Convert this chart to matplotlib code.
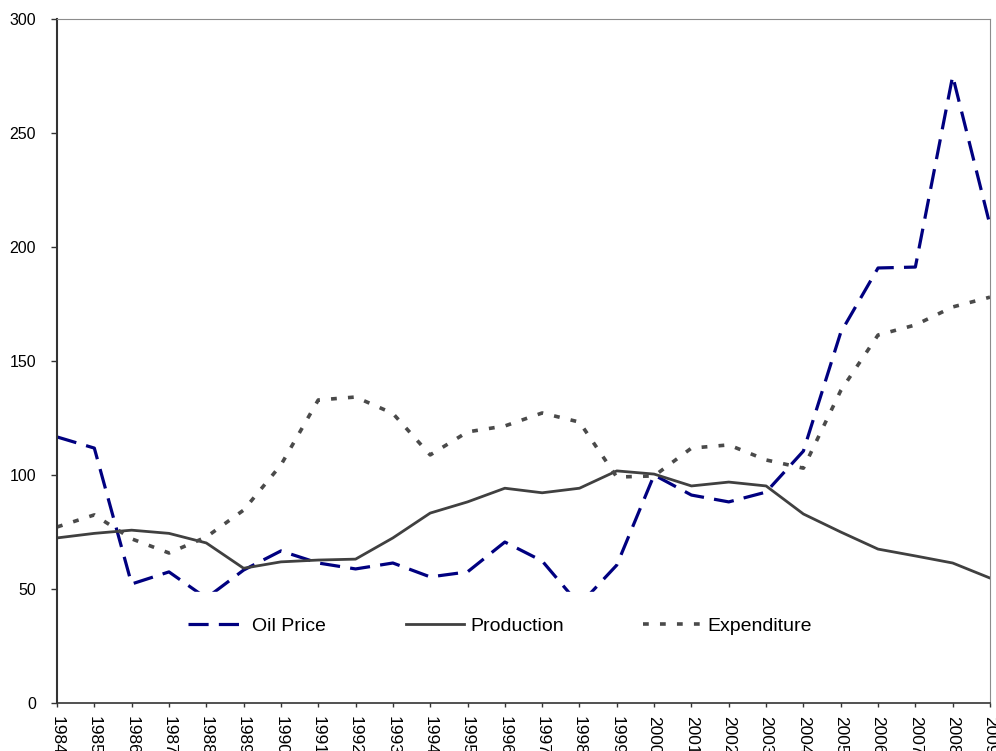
import numpy as np
import matplotlib.pyplot as plt

years = list(range(1984, 2010))
oil_price = [116.7, 111.8, 52.2, 57.5, 46, 58.3, 66.7, 61.4, 58.8, 61.4, 55.3, 57.5, 70.6,
             62.3, 43, 60.5, 100, 91.2, 88.2, 92.5, 110.5, 162.5, 190.8, 191.2, 275, 209.6]
production = [72.4, 74.4, 75.8, 74.4, 70.2, 59.1, 61.9, 62.7, 63.1, 72.4, 83.3, 88.2, 94.2,
              92.2, 94.2, 101.8, 100.4, 95.2, 96.9, 95.2, 82.9, 75, 67.5, 64.5, 61.4, 54.8]
expenditure = [77.2, 82.5, 72, 65.8, 72.8, 84.6, 104.4, 132.9, 134.2, 127, 108.8, 118.9, 121.5,
               127.2, 123.2, 99.1, 99.6, 111.8, 113.2, 106.6, 103, 137, 161.4, 165.8, 173.7, 178]

plt.rcParams['font.family'] = ['Liberation Sans', 'DejaVu Sans']

fig = plt.figure(figsize=(9.96, 7.51), dpi=100)
ax = fig.add_axes([57/996, 48/751, 933/996, 684/751])

ax.plot(years, oil_price, color="#000080", lw=2.3, dashes=(6.3, 3.2), label="Oil Price")
ax.plot(years, production, color="#404040", lw=2.0, label="Production")
ax.plot(years, expenditure, color="#4a4a4a", lw=2.6, dashes=(1.6, 3.1), label="Expenditure")

ax.set_xlim(1984, 2009)
ax.set_ylim(0, 300)
ax.set_yticks(np.arange(0, 301, 50))
ax.set_xticks(years)
ax.set_xticklabels([str(y) for y in years], rotation=-90, va="top", ha="center")

ax.tick_params(axis="y", direction="out", length=4, width=1, pad=11, labelsize=11.5, colors="#333333", labelcolor="black")
ax.tick_params(axis="x", direction="out", length=3, width=1, pad=6, labelsize=12.5, colors="#333333", labelcolor="black")

ax.spines["left"].set_color("#333333")
ax.spines["bottom"].set_color("#333333")
ax.spines["left"].set_linewidth(1.5)
ax.spines["bottom"].set_linewidth(1.2)
ax.spines["top"].set_color("#8c8c8c")
ax.spines["right"].set_color("#8c8c8c")

leg = ax.legend(loc="center", bbox_to_anchor=(0.475, 0.112), ncol=3, fontsize=14,
                handlelength=3.0, handletextpad=0.3, columnspacing=4.1,
                borderpad=1.3, frameon=True, fancybox=False)
leg.get_frame().set_facecolor("white")
leg.get_frame().set_edgecolor("white")
leg.get_frame().set_alpha(1)

fig.savefig("out.png", dpi=100)
